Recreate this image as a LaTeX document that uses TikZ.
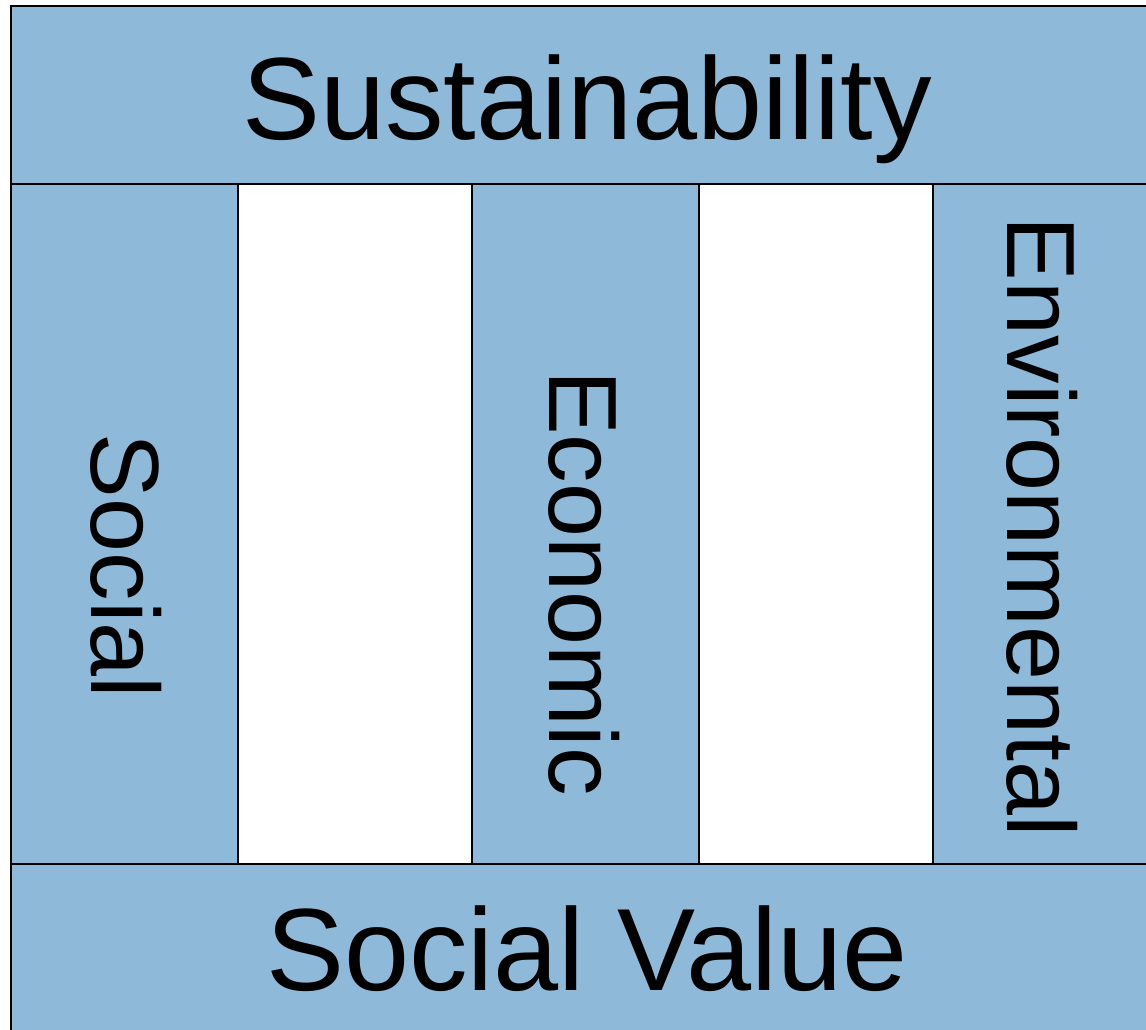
\documentclass[tikz,border=0pt]{standalone}
\usepackage{fontspec}
\setmainfont{Liberation Sans}
\definecolor{pillarblue}{RGB}{143,185,216}
\tikzset{
  block/.style={fill=pillarblue, draw=black, line width=2pt},
  gapbox/.style={fill=white, draw=black, line width=2pt},
  widetext/.style={font=\fontsize{117}{120}\selectfont, anchor=base, inner sep=0pt},
  sidetext/.style={font=\fontsize{97}{100}\selectfont, anchor=base, rotate=-90, inner sep=0pt},
}
\begin{document}
\begin{tikzpicture}[x=1pt,y=-1pt]
    \useasboundingbox (0,0) rectangle (1146,1030);
    % roof
    \draw[block] (11,6) rectangle (1160,184);
    % pillars
    \draw[block] (11,184) rectangle (238,864);
    \draw[gapbox] (238,184) rectangle (472,864);
    \draw[block] (472,184) rectangle (699,864);
    \draw[gapbox] (699,184) rectangle (933,864);
    \draw[block] (933,184) rectangle (1160,864);
    % floor
    \draw[block] (11,864) rectangle (1160,1045);
    \node[widetext] (roof) at (587,140) {Sustainability};
    \node[sidetext] (social) at (91,566) {Social};
    \node[sidetext] (economic) at (549,583) {Economic};
    \node[sidetext] (environ) at (1007,527) {Environmental};
    \node[widetext] (floor) at (587,990) {Social Value};
\end{tikzpicture}
\end{document}
